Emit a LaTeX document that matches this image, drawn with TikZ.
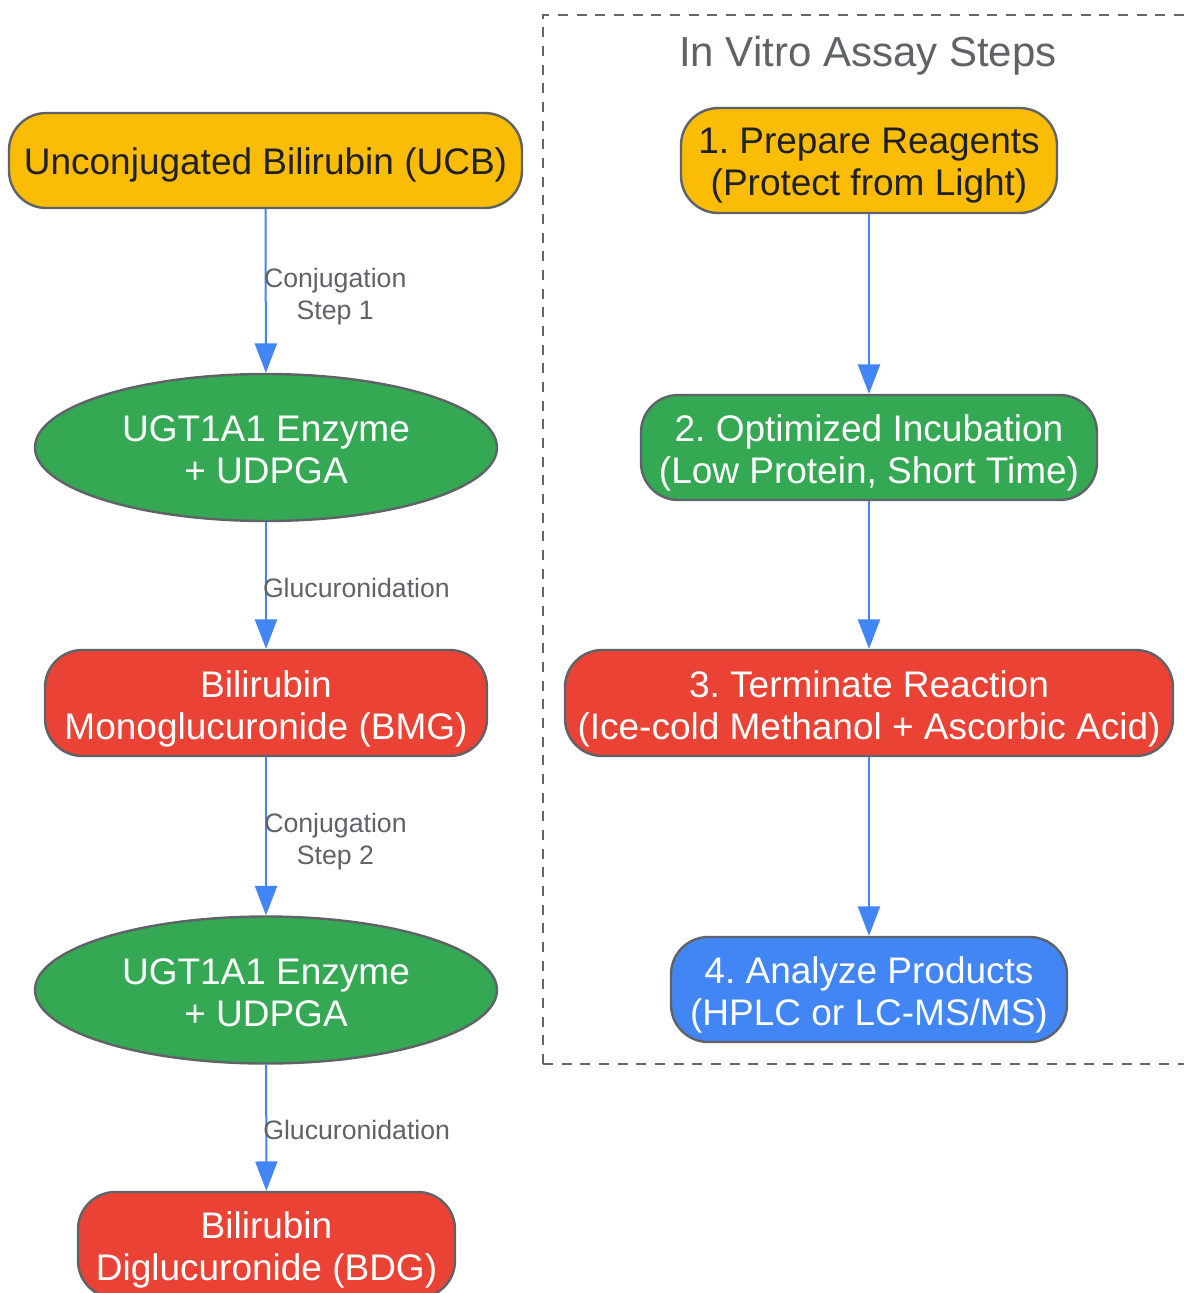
\documentclass[tikz,border=0pt]{standalone}
\usepackage{fontspec}
\setmainfont{Liberation Sans}
\frenchspacing
\usetikzlibrary{arrows.meta,shapes.geometric}
\definecolor{gyellow}{HTML}{FBBC05}
\definecolor{ggreen}{HTML}{34A853}
\definecolor{gred}{HTML}{EA4335}
\definecolor{gblue}{HTML}{4285F4}
\definecolor{gborder}{HTML}{5F6368}
\definecolor{gtext}{HTML}{202124}
\definecolor{glabel}{HTML}{5F6368}
\definecolor{gframe}{HTML}{666666}
\tikzset{
  box/.style={draw=gborder, line width=1.8pt, rounded corners=28pt, inner sep=0pt},
  oval/.style={ellipse, draw=gborder, line width=1.8pt, inner sep=0pt, fill=ggreen,
    minimum width={462*0.75pt}, minimum height={147*0.75pt}},
  txt/.style={inner sep=0pt, align=center, font=\fontsize{27.75}{31.5}\selectfont},
  arr/.style={draw=gblue, line width=1.5pt, -{Triangle[width=16.5pt,length=22pt]}},
  elabel/.style={anchor=west, inner sep=0pt, align=center, text=glabel,
    font=\fontsize{20}{24}\selectfont},
  frame/.style={draw=gframe, line width=2.1pt, dash pattern=on 7.5pt off 6.5pt},
}
\begin{document}
\begin{tikzpicture}[x=0.75pt, y=-0.75pt]
\useasboundingbox (0,0) rectangle (1183,1293);
\fill[white] (0,0) rectangle (1183,1293);
% frame
\draw[frame] (543,1064) -- (543,15) -- (1200,15);
\draw[frame] (543,1064) -- (1200,1064);
\node[text=glabel, font=\fontsize{31.5}{36}\selectfont, inner sep=0pt] (title) at (868,56) {In Vitro Assay Steps};
% left column
\node[box, fill=gyellow, minimum width={513*0.75pt}, minimum height={95*0.75pt}] (ucb) at (265.5,160.5) {};
\node[txt, text=gtext] (ucbt) at ([yshift=-3pt]ucb.center) {Unconjugated Bilirubin (UCB)};
\node[oval] (e1) at (266,447.5) {};
\node[txt, text=white] (e1t) at ([yshift=-1.7pt]e1.center) {UGT1A1 Enzyme\\+ UDPGA};
\node[box, fill=gred, minimum width={442*0.75pt}, minimum height={106*0.75pt}] (bmg) at (266,703) {};
\node[txt, text=white] (bmgt) at ([yshift=-4.2pt]bmg.center) {Bilirubin\\Monoglucuronide (BMG)};
\node[oval] (e2) at (266,990) {};
\node[txt, text=white] (e2t) at ([yshift=-2pt]e2.center) {UGT1A1 Enzyme\\+ UDPGA};
\node[box, fill=gred, minimum width={377*0.75pt}, minimum height={106*0.75pt}] (bdg) at (266.5,1245) {};
\node[txt, text=white] (bdgt) at ([yshift=-3.8pt]bdg.center) {Bilirubin\\Diglucuronide (BDG)};
% right column
\node[box, fill=gyellow, minimum width={376*0.75pt}, minimum height={105*0.75pt}] (s1) at (869,160.5) {};
\node[txt, text=gtext] (s1t) at ([yshift=-3.8pt]s1.center) {1. Prepare Reagents\\(Protect from Light)};
\node[box, fill=ggreen, minimum width={456*0.75pt}, minimum height={105*0.75pt}] (s2) at (869,447.5) {};
\node[txt, text=white] (s2t) at ([yshift=-3.8pt]s2.center) {2. Optimized Incubation\\(Low Protein, Short Time)};
\node[box, fill=gred, minimum width={608*0.75pt}, minimum height={106*0.75pt}] (s3) at (869,703) {};
\node[txt, text=white] (s3t) at ([yshift=-4.2pt]s3.center) {3. Terminate Reaction\\(Ice-cold Methanol + Ascorbic Acid)};
\node[box, fill=gblue, minimum width={396*0.75pt}, minimum height={105*0.75pt}] (s4) at (869,989.5) {};
\node[txt, text=white] (s4t) at ([yshift=-4.2pt]s4.center) {4. Analyze Products\\(HPLC or LC-MS/MS)};
% edges
\draw[arr] (ucb) -- (e1) node[elabel, pos=0.52, xshift=-2pt, yshift=-1.5pt] {Conjugation\\Step 1};
\draw[arr] (e1) -- (bmg) node[elabel, pos=0.5, xshift=-3pt, yshift=-1.5pt] {Glucuronidation};
\draw[arr] (bmg) -- (e2) node[elabel, pos=0.52, xshift=-2pt, yshift=-1.5pt] {Conjugation\\Step 2};
\draw[arr] (e2) -- (bdg) node[elabel, pos=0.5, xshift=-3pt, yshift=-1.5pt] {Glucuronidation};
\draw[arr] (s1) -- (s2);
\draw[arr] (s2) -- (s3);
\draw[arr] (s3) -- (s4);
\end{tikzpicture}
\end{document}
